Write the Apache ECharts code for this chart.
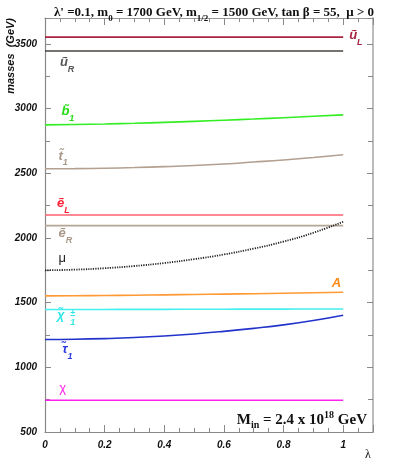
<!DOCTYPE html>
<html style="height: 100%">
<head>
<meta charset="utf-8">
<script src="https://cdn.jsdelivr.net/npm/echarts@6/dist/echarts.min.js"></script>
</head>
<body style="height: 100%; margin: 0; background: #fff">
<div id="container" style="width: 398px; height: 464px"></div>
<script type="text/javascript">
// lambda values along x
var lambda = [0, 0.1, 0.2, 0.3, 0.4, 0.5, 0.6, 0.7, 0.8, 0.9, 1.0];

// masses (GeV)
var uL   = [3552, 3552, 3552, 3552, 3552, 3552, 3552, 3552, 3552, 3552, 3552];
var uR   = [3445, 3445, 3445, 3445, 3445, 3445, 3445, 3445, 3445, 3445, 3445];
var b1   = [2874, 2877, 2881, 2886, 2893, 2901, 2910, 2919, 2929, 2940, 2951];
var t1   = [2535, 2536, 2539, 2544, 2551, 2560, 2572, 2587, 2603, 2622, 2643];
var eL   = [2177, 2177, 2177, 2177, 2177, 2177, 2177, 2177, 2177, 2177, 2177];
var eR   = [2095, 2095, 2095, 2095, 2095, 2095, 2095, 2095, 2095, 2095, 2095];
var mu   = [1750, 1755, 1766, 1783, 1806, 1836, 1872, 1918, 1972, 2040, 2125];
var mA   = [1552, 1553, 1555, 1557, 1560, 1563, 1566, 1569, 1572, 1576, 1580];
var chiC = [1447, 1447, 1447, 1448, 1448, 1449, 1449, 1450, 1450, 1451, 1451];
var tau1 = [1215, 1217, 1222, 1230, 1242, 1258, 1278, 1301, 1328, 1362, 1403];
var chi0 = [745, 745, 745, 745, 745, 745, 745, 745, 745, 745, 745];

var yTicks = [500, 1000, 1500, 2000, 2500, 3000, 3500];
var xTicks = [0, 0.2, 0.4, 0.6, 0.8, 1];

var dom = document.getElementById("container");
var myChart = echarts.init(dom);

var sans = 'Liberation Sans';
var serif = 'Liberation Serif';

function pairs(v) {
    return lambda.map(function (x, i) { return [x, v[i]]; });
}

// rich styles for the curve labels (base letter + subscript)
function labelRich(color, italic, weight) {
    return {
        m: { fontFamily: sans, fontStyle: italic ? 'italic' : 'normal', fontWeight: weight, fontSize: 13, color: color, verticalAlign: 'top', lineHeight: 18 },
        s: { fontFamily: sans, fontStyle: 'italic', fontWeight: 'bold', fontSize: 9, color: color, verticalAlign: 'bottom', lineHeight: 18 },
        p: { fontFamily: sans, fontStyle: 'italic', fontWeight: 'bold', fontSize: 9, color: color, lineHeight: 9 }
    };
}

// [text, lambda, mass] for each label
function mark(items, color, italic, weight) {
    return {
        silent: true,
        symbol: 'circle',
        symbolSize: 1,
        itemStyle: { color: 'rgba(0,0,0,0)' },
        data: items.map(function (it) {
            return {
                coord: [it[1], it[2]],
                label: {
                    show: true,
                    position: 'inside',
                    align: 'left',
                    verticalAlign: 'middle',
                    formatter: it[0],
                    rich: labelRich(color, italic, weight)
                }
            };
        })
    };
}

function line(name, values, color, labels, opts) {
    opts = opts || {};
    return {
        name: name,
        type: 'line',
        data: pairs(values),
        smooth: true,
        showSymbol: false,
        lineStyle: { color: color, width: opts.width || 1.6, type: opts.type || 'solid' },
        markPoint: mark(labels, opts.labelColor || color, opts.italic !== false, opts.weight || 'bold'),
        z: 3
    };
}

var tickStyle = { color: '#888', width: 1 };

function frameAxis(pos, isX, labels, lineColor, lineWidth) {
    var ax = {
        type: 'value',
        position: pos,
        min: isX ? 0 : 500,
        max: isX ? 1.1 : 3700,
        interval: isX ? 0.2 : 500,
        axisLine: { show: true, onZero: false, lineStyle: { color: lineColor, width: lineWidth } },
        axisTick: { show: true, inside: true, length: isX ? 7 : 6, lineStyle: tickStyle },
        minorTick: { show: true, splitNumber: isX ? 4 : 2, length: isX ? 4 : 5, lineStyle: tickStyle },
        splitLine: { show: false },
        axisLabel: { show: false }
    };
    if (labels) {
        var list = isX ? xTicks : yTicks;
        ax.axisLabel = {
            showMaxLabel: false,
            margin: 8,
            fontFamily: sans, fontStyle: 'italic', fontWeight: 'bold', fontSize: 10, color: '#111',
            formatter: function (v) { return list.indexOf(v) >= 0 ? String(v) : ''; }
        };
    }
    return ax;
}

option = {
    animation: false,
    backgroundColor: '#fff',
    title: {
        text: "{t|λ' =0.1, m}{s|0}{t| = 1700 GeV, m}{s|1/2}{t| = 1500 GeV, tan β = 55,  μ > 0}",
        left: 209,
        top: 1,
        textAlign: 'center',
        textStyle: {
            rich: {
                t: { fontFamily: serif, fontWeight: 'bold', fontSize: 13, color: '#111', verticalAlign: 'top', lineHeight: 17 },
                s: { fontFamily: serif, fontWeight: 'bold', fontSize: 9, color: '#111', verticalAlign: 'bottom', lineHeight: 17 }
            }
        }
    },
    grid: { left: 45, right: 25, top: 18, bottom: 32 },
    xAxis: [
        frameAxis('bottom', true, true, '#888', 1.2),
        frameAxis('top', true, false, '#999', 1.2)
    ],
    yAxis: [
        frameAxis('left', false, true, '#888', 1.2),
        frameAxis('right', false, false, '#bbb', 2)
    ],
    graphic: [
        {
            type: 'text',
            x: 11, y: 18,
            rotation: Math.PI / 2,
            style: {
                text: 'masses  (GeV)',
                fontFamily: sans, fontStyle: 'italic', fontWeight: 'bold', fontSize: 11,
                fill: '#111', align: 'right', verticalAlign: 'middle'
            }
        },
        {
            type: 'text',
            x: 367, y: 420,
            style: {
                text: '{m|M}{s|in}{m| = 2.4 x 10}{p|18}{m| GeV}',
                align: 'right', verticalAlign: 'middle',
                rich: {
                    m: { fontFamily: serif, fontWeight: 'bold', fontSize: 15, fill: '#111', verticalAlign: 'middle', lineHeight: 20 },
                    s: { fontFamily: serif, fontWeight: 'bold', fontSize: 10, fill: '#111', verticalAlign: 'bottom', lineHeight: 20 },
                    p: { fontFamily: serif, fontWeight: 'bold', fontSize: 10, fill: '#111', verticalAlign: 'top', lineHeight: 20 }
                }
            }
        },
        {
            type: 'text',
            x: 368, y: 455,
            style: { text: 'λ', fontFamily: serif, fontSize: 12, fill: '#111', align: 'center', verticalAlign: 'middle' }
        }
    ],
    series: [
        line('uL', uL, '#a8243f', [['{m|ũ}{s|L}', 1.02, 3545]]),
        line('uR', uR, '#4a4440', [['{m|ũ}{s|R}', 0.05, 3340]], { labelColor: '#555' }),
        line('b1', b1, '#33ee22', [['{m|b̃}{s|1}', 0.055, 2955]], { labelColor: '#22dd11' }),
        line('t1', t1, '#b3a090', [['{m|t̃}{s|1}', 0.045, 2614]], { labelColor: '#a89888' }),
        line('eL', eL, '#ff6272', [['{m|ẽ}{s|L}', 0.04, 2244]], { labelColor: '#ff2236' }),
        line('eR', eR, '#b5a595', [['{m|ẽ}{s|R}', 0.045, 2012]], { labelColor: '#a89888' }),
        line('mu', mu, '#222', [['{m|μ}', 0.045, 1820]], { type: [1.2, 1.2], width: 1.8, italic: false, weight: 'normal' }),
        line('A', mA, '#ff9933', [['{m|A}', 0.962, 1632]], { labelColor: '#ff8811' }),
        line('chipm', chiC, '#44f0ee', [['{m|χ̃}', 0.04, 1378], ['{p|±}\n{p|1}', 0.085, 1380]], { labelColor: '#33e6e6' }),
        line('tau1', tau1, '#2233cc', [['{m|τ̃}{s|1}', 0.058, 1117]], { labelColor: '#2a3ae0' }),
        line('chi0', chi0, '#ff22ee', [['{m|χ}', 0.048, 816]], { labelColor: '#ff22ee', italic: false, weight: 'normal' })
    ]
};

myChart.setOption(option);
</script>
</body>
</html>
